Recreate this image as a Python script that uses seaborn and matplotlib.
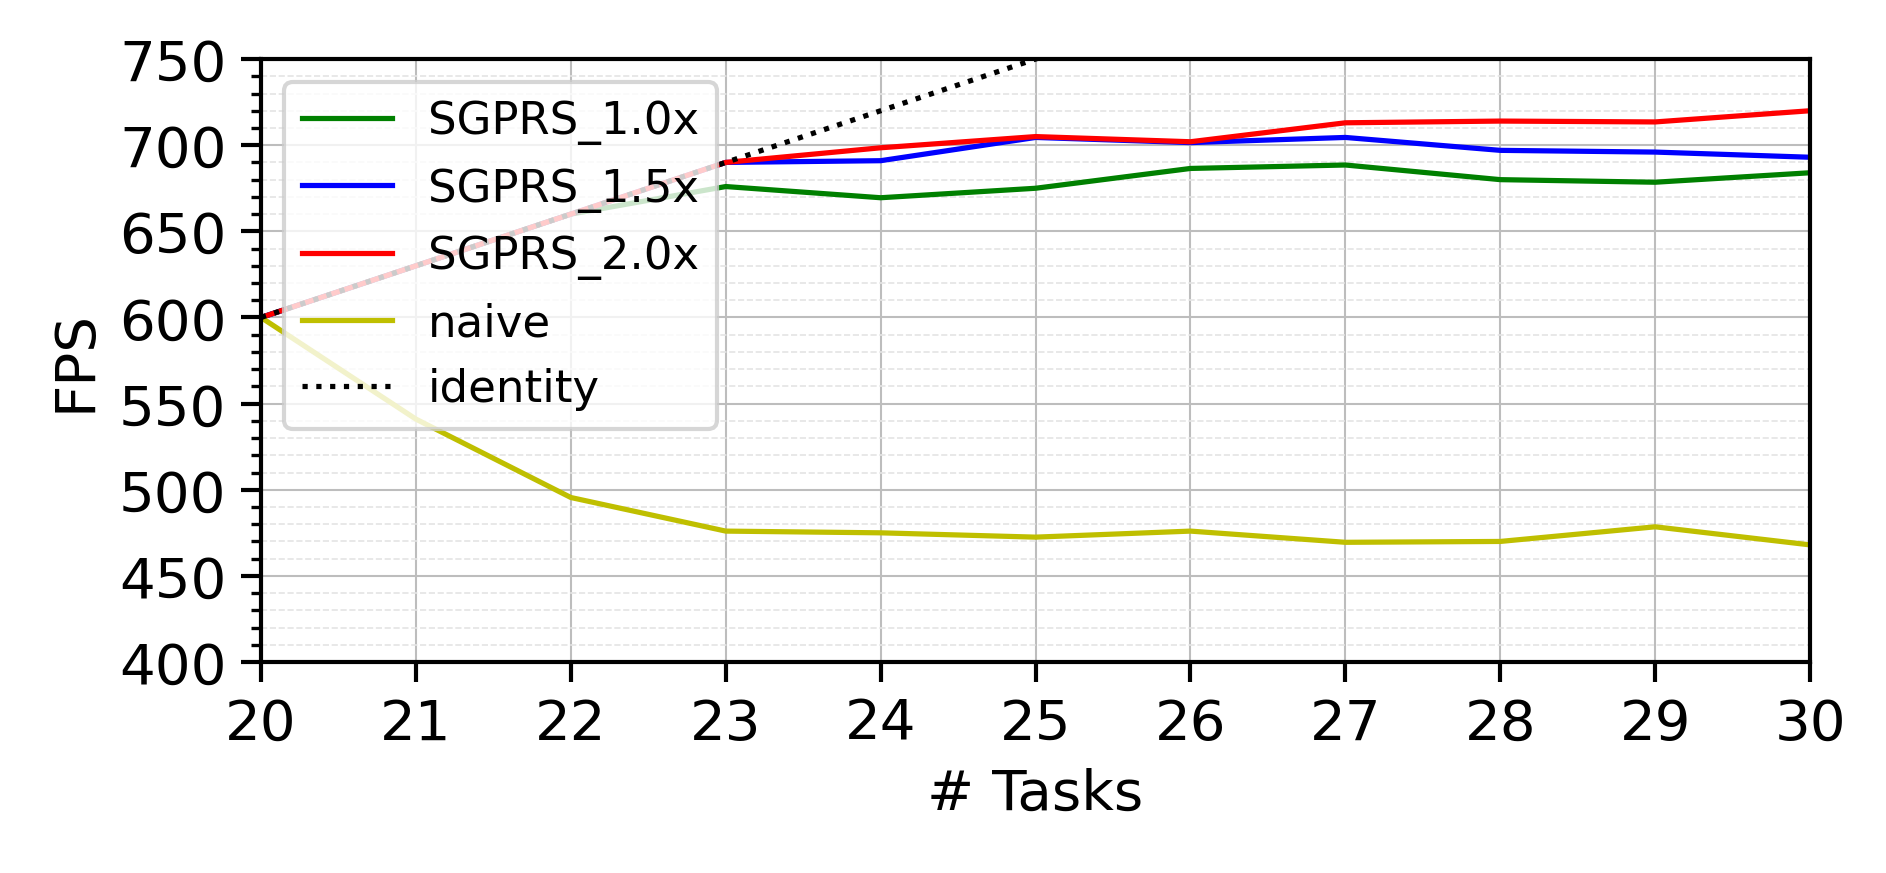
import numpy as np
import pandas as pd
import matplotlib
matplotlib.use("Agg")
import matplotlib.pyplot as plt
from matplotlib.ticker import MultipleLocator
import seaborn as sns

# ---------------------------------
# DATA
# ---------------------------------
tasks = [20, 21, 22, 23, 24, 25, 26, 27, 28, 29, 30]
sgprs_10 = [600, 630, 660, 676, 669.5, 675, 686.5, 688.5, 680, 678.5, 684]
sgprs_15 = [600, 630, 660, 690, 691, 704.5, 701.5, 704.5, 697, 696, 693]
sgprs_20 = [600, 630, 660, 690, 698.5, 705, 702, 713, 714, 713.5, 720]
naive = [600, 541, 495.5, 476, 475, 472.5, 476, 469.5, 470, 478.5, 468]
identity = [600, 630, 660, 690, 720, 750, 780, 810, 840, 870, 900]

series = {
    "SGPRS_1.0x": (sgprs_10, "g", "-"),
    "SGPRS_1.5x": (sgprs_15, "b", "-"),
    "SGPRS_2.0x": (sgprs_20, "r", "-"),
    "naive": (naive, "y", "-"),
    "identity": (identity, "k", ":"),
}

# ---------------------------------
# PLOT
# ---------------------------------
fig, ax = plt.subplots(figsize=(6.287, 2.913), dpi=300)
fig.subplots_adjust(left=0.1384, right=0.9597, top=0.9314, bottom=0.2414)

for name, (vals, col, ls) in series.items():
    df = pd.DataFrame({"tasks": tasks, "fps": vals})
    sns.lineplot(data=df, x="tasks", y="fps", ax=ax, color=col,
                 linestyle=ls, linewidth=1.25, label=name)

ax.set_xlim(20, 30)
ax.set_ylim(400, 750)
ax.xaxis.set_major_locator(MultipleLocator(1))
ax.yaxis.set_major_locator(MultipleLocator(50))
ax.yaxis.set_minor_locator(MultipleLocator(10))

ax.grid(which="major", color="#bdbdbd", linestyle="-", linewidth=0.5)
ax.grid(which="minor", axis="y", color="#e4e4e4", linestyle="--", linewidth=0.4)
ax.set_axisbelow(True)

ax.tick_params(axis="both", which="major", labelsize=13.5, length=4.8, width=1)
ax.tick_params(axis="y", which="minor", length=2.4, width=0.8)
for s in ax.spines.values():
    s.set_linewidth(1)

ax.set_xlabel("# Tasks", fontsize=13.5)
ax.set_ylabel("FPS", fontsize=13.5)

ax.legend(loc="upper left", fontsize=10.8)

plt.savefig("out.png", dpi=300)
